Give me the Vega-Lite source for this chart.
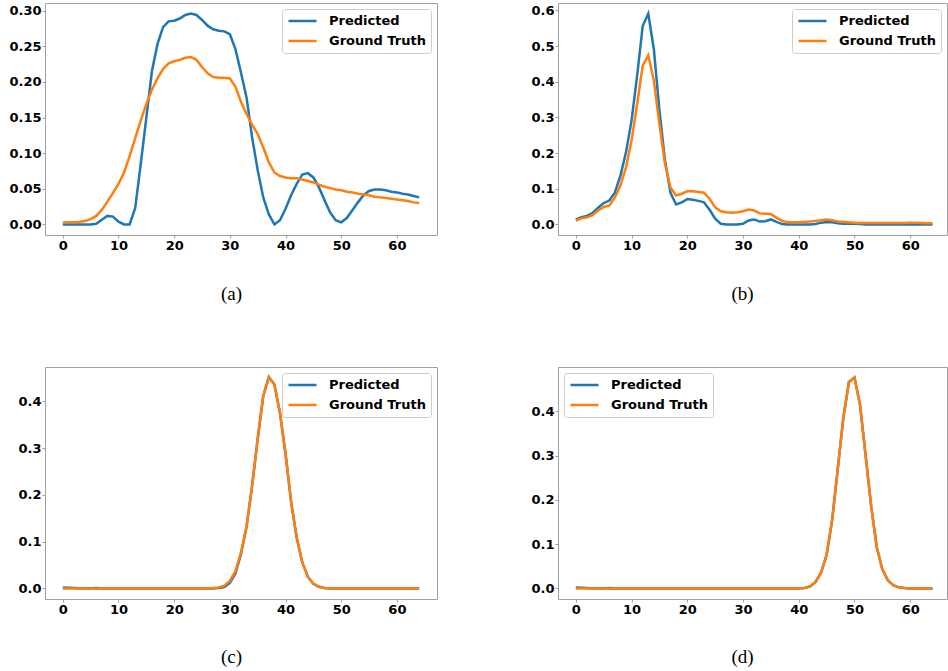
{
"$schema": "https://vega.github.io/schema/vega-lite/v6.json",
"background": "white",
"padding": {"left": 8, "top": 2, "right": 0, "bottom": 0},
"data": {"values": [
{"p":"a","x":0,"Predicted":0,"Ground Truth":0.0028},
{"p":"a","x":1,"Predicted":0,"Ground Truth":0.003},
{"p":"a","x":2,"Predicted":0,"Ground Truth":0.003},
{"p":"a","x":3,"Predicted":0,"Ground Truth":0.0037},
{"p":"a","x":4,"Predicted":0,"Ground Truth":0.0047},
{"p":"a","x":5,"Predicted":0,"Ground Truth":0.0075},
{"p":"a","x":6,"Predicted":0.001,"Ground Truth":0.012},
{"p":"a","x":7,"Predicted":0.0065,"Ground Truth":0.0205},
{"p":"a","x":8,"Predicted":0.012,"Ground Truth":0.032},
{"p":"a","x":9,"Predicted":0.011,"Ground Truth":0.044},
{"p":"a","x":10,"Predicted":0.004,"Ground Truth":0.057},
{"p":"a","x":11,"Predicted":0,"Ground Truth":0.073},
{"p":"a","x":12,"Predicted":0,"Ground Truth":0.096},
{"p":"a","x":13,"Predicted":0.023,"Ground Truth":0.121},
{"p":"a","x":14,"Predicted":0.085,"Ground Truth":0.146},
{"p":"a","x":15,"Predicted":0.150,"Ground Truth":0.169},
{"p":"a","x":16,"Predicted":0.215,"Ground Truth":0.189},
{"p":"a","x":17,"Predicted":0.253,"Ground Truth":0.205},
{"p":"a","x":18,"Predicted":0.277,"Ground Truth":0.218},
{"p":"a","x":19,"Predicted":0.285,"Ground Truth":0.226},
{"p":"a","x":20,"Predicted":0.286,"Ground Truth":0.229},
{"p":"a","x":21,"Predicted":0.289,"Ground Truth":0.231},
{"p":"a","x":22,"Predicted":0.294,"Ground Truth":0.234},
{"p":"a","x":23,"Predicted":0.296,"Ground Truth":0.235},
{"p":"a","x":24,"Predicted":0.294,"Ground Truth":0.231},
{"p":"a","x":25,"Predicted":0.287,"Ground Truth":0.221},
{"p":"a","x":26,"Predicted":0.279,"Ground Truth":0.212},
{"p":"a","x":27,"Predicted":0.274,"Ground Truth":0.207},
{"p":"a","x":28,"Predicted":0.272,"Ground Truth":0.206},
{"p":"a","x":29,"Predicted":0.271,"Ground Truth":0.206},
{"p":"a","x":30,"Predicted":0.267,"Ground Truth":0.205},
{"p":"a","x":31,"Predicted":0.246,"Ground Truth":0.193},
{"p":"a","x":32,"Predicted":0.213,"Ground Truth":0.172},
{"p":"a","x":33,"Predicted":0.178,"Ground Truth":0.155},
{"p":"a","x":34,"Predicted":0.122,"Ground Truth":0.140},
{"p":"a","x":35,"Predicted":0.076,"Ground Truth":0.127},
{"p":"a","x":36,"Predicted":0.038,"Ground Truth":0.108},
{"p":"a","x":37,"Predicted":0.014,"Ground Truth":0.087},
{"p":"a","x":38,"Predicted":0,"Ground Truth":0.073},
{"p":"a","x":39,"Predicted":0.006,"Ground Truth":0.068},
{"p":"a","x":40,"Predicted":0.022,"Ground Truth":0.066},
{"p":"a","x":41,"Predicted":0.041,"Ground Truth":0.065},
{"p":"a","x":42,"Predicted":0.057,"Ground Truth":0.065},
{"p":"a","x":43,"Predicted":0.070,"Ground Truth":0.063},
{"p":"a","x":44,"Predicted":0.072,"Ground Truth":0.061},
{"p":"a","x":45,"Predicted":0.066,"Ground Truth":0.059},
{"p":"a","x":46,"Predicted":0.052,"Ground Truth":0.056},
{"p":"a","x":47,"Predicted":0.034,"Ground Truth":0.053},
{"p":"a","x":48,"Predicted":0.017,"Ground Truth":0.051},
{"p":"a","x":49,"Predicted":0.006,"Ground Truth":0.049},
{"p":"a","x":50,"Predicted":0.003,"Ground Truth":0.048},
{"p":"a","x":51,"Predicted":0.009,"Ground Truth":0.046},
{"p":"a","x":52,"Predicted":0.020,"Ground Truth":0.045},
{"p":"a","x":53,"Predicted":0.031,"Ground Truth":0.043},
{"p":"a","x":54,"Predicted":0.041,"Ground Truth":0.042},
{"p":"a","x":55,"Predicted":0.047,"Ground Truth":0.041},
{"p":"a","x":56,"Predicted":0.049,"Ground Truth":0.039},
{"p":"a","x":57,"Predicted":0.049,"Ground Truth":0.038},
{"p":"a","x":58,"Predicted":0.048,"Ground Truth":0.037},
{"p":"a","x":59,"Predicted":0.046,"Ground Truth":0.036},
{"p":"a","x":60,"Predicted":0.045,"Ground Truth":0.035},
{"p":"a","x":61,"Predicted":0.043,"Ground Truth":0.034},
{"p":"a","x":62,"Predicted":0.042,"Ground Truth":0.033},
{"p":"a","x":63,"Predicted":0.040,"Ground Truth":0.031},
{"p":"a","x":64,"Predicted":0.038,"Ground Truth":0.030},
{"p":"b","x":0,"Predicted":0.014,"Ground Truth":0.011},
{"p":"b","x":1,"Predicted":0.020,"Ground Truth":0.017},
{"p":"b","x":2,"Predicted":0.024,"Ground Truth":0.020},
{"p":"b","x":3,"Predicted":0.032,"Ground Truth":0.026},
{"p":"b","x":4,"Predicted":0.047,"Ground Truth":0.039},
{"p":"b","x":5,"Predicted":0.060,"Ground Truth":0.049},
{"p":"b","x":6,"Predicted":0.067,"Ground Truth":0.053},
{"p":"b","x":7,"Predicted":0.089,"Ground Truth":0.075},
{"p":"b","x":8,"Predicted":0.137,"Ground Truth":0.109},
{"p":"b","x":9,"Predicted":0.202,"Ground Truth":0.160},
{"p":"b","x":10,"Predicted":0.291,"Ground Truth":0.235},
{"p":"b","x":11,"Predicted":0.417,"Ground Truth":0.337},
{"p":"b","x":12,"Predicted":0.556,"Ground Truth":0.445},
{"p":"b","x":13,"Predicted":0.591,"Ground Truth":0.474},
{"p":"b","x":14,"Predicted":0.491,"Ground Truth":0.403},
{"p":"b","x":15,"Predicted":0.319,"Ground Truth":0.281},
{"p":"b","x":16,"Predicted":0.179,"Ground Truth":0.170},
{"p":"b","x":17,"Predicted":0.088,"Ground Truth":0.103},
{"p":"b","x":18,"Predicted":0.056,"Ground Truth":0.081},
{"p":"b","x":19,"Predicted":0.062,"Ground Truth":0.086},
{"p":"b","x":20,"Predicted":0.071,"Ground Truth":0.093},
{"p":"b","x":21,"Predicted":0.069,"Ground Truth":0.093},
{"p":"b","x":22,"Predicted":0.066,"Ground Truth":0.091},
{"p":"b","x":23,"Predicted":0.062,"Ground Truth":0.089},
{"p":"b","x":24,"Predicted":0.041,"Ground Truth":0.072},
{"p":"b","x":25,"Predicted":0.016,"Ground Truth":0.048},
{"p":"b","x":26,"Predicted":0.002,"Ground Truth":0.037},
{"p":"b","x":27,"Predicted":0,"Ground Truth":0.034},
{"p":"b","x":28,"Predicted":0,"Ground Truth":0.033},
{"p":"b","x":29,"Predicted":0,"Ground Truth":0.034},
{"p":"b","x":30,"Predicted":0.002,"Ground Truth":0.037},
{"p":"b","x":31,"Predicted":0.011,"Ground Truth":0.042},
{"p":"b","x":32,"Predicted":0.014,"Ground Truth":0.039},
{"p":"b","x":33,"Predicted":0.008,"Ground Truth":0.031},
{"p":"b","x":34,"Predicted":0.009,"Ground Truth":0.030},
{"p":"b","x":35,"Predicted":0.014,"Ground Truth":0.029},
{"p":"b","x":36,"Predicted":0.007,"Ground Truth":0.019},
{"p":"b","x":37,"Predicted":0.001,"Ground Truth":0.010},
{"p":"b","x":38,"Predicted":0,"Ground Truth":0.0065},
{"p":"b","x":39,"Predicted":0,"Ground Truth":0.006},
{"p":"b","x":40,"Predicted":0,"Ground Truth":0.006},
{"p":"b","x":41,"Predicted":0,"Ground Truth":0.007},
{"p":"b","x":42,"Predicted":0,"Ground Truth":0.008},
{"p":"b","x":43,"Predicted":0.001,"Ground Truth":0.010},
{"p":"b","x":44,"Predicted":0.005,"Ground Truth":0.012},
{"p":"b","x":45,"Predicted":0.007,"Ground Truth":0.014},
{"p":"b","x":46,"Predicted":0.006,"Ground Truth":0.012},
{"p":"b","x":47,"Predicted":0.003,"Ground Truth":0.008},
{"p":"b","x":48,"Predicted":0.002,"Ground Truth":0.007},
{"p":"b","x":49,"Predicted":0.002,"Ground Truth":0.006},
{"p":"b","x":50,"Predicted":0.002,"Ground Truth":0.005},
{"p":"b","x":51,"Predicted":0.001,"Ground Truth":0.004},
{"p":"b","x":52,"Predicted":0,"Ground Truth":0.004},
{"p":"b","x":53,"Predicted":0,"Ground Truth":0.004},
{"p":"b","x":54,"Predicted":0,"Ground Truth":0.004},
{"p":"b","x":55,"Predicted":0,"Ground Truth":0.004},
{"p":"b","x":56,"Predicted":0,"Ground Truth":0.004},
{"p":"b","x":57,"Predicted":0,"Ground Truth":0.004},
{"p":"b","x":58,"Predicted":0,"Ground Truth":0.004},
{"p":"b","x":59,"Predicted":0,"Ground Truth":0.004},
{"p":"b","x":60,"Predicted":0,"Ground Truth":0.005},
{"p":"b","x":61,"Predicted":0,"Ground Truth":0.005},
{"p":"b","x":62,"Predicted":0,"Ground Truth":0.004},
{"p":"b","x":63,"Predicted":0,"Ground Truth":0.003},
{"p":"b","x":64,"Predicted":0,"Ground Truth":0.003},
{"p":"c","x":0,"Predicted":0.002,"Ground Truth":0},
{"p":"c","x":1,"Predicted":0.0015,"Ground Truth":0},
{"p":"c","x":2,"Predicted":0.001,"Ground Truth":0},
{"p":"c","x":3,"Predicted":0.0005,"Ground Truth":0},
{"p":"c","x":4,"Predicted":0,"Ground Truth":0},
{"p":"c","x":5,"Predicted":0,"Ground Truth":0},
{"p":"c","x":6,"Predicted":0.001,"Ground Truth":0},
{"p":"c","x":7,"Predicted":0,"Ground Truth":0},
{"p":"c","x":8,"Predicted":0,"Ground Truth":0},
{"p":"c","x":9,"Predicted":0,"Ground Truth":0},
{"p":"c","x":10,"Predicted":0,"Ground Truth":0},
{"p":"c","x":11,"Predicted":0,"Ground Truth":0},
{"p":"c","x":12,"Predicted":0,"Ground Truth":0},
{"p":"c","x":13,"Predicted":0,"Ground Truth":0},
{"p":"c","x":14,"Predicted":0,"Ground Truth":0},
{"p":"c","x":15,"Predicted":0,"Ground Truth":0},
{"p":"c","x":16,"Predicted":0,"Ground Truth":0},
{"p":"c","x":17,"Predicted":0,"Ground Truth":0},
{"p":"c","x":18,"Predicted":0,"Ground Truth":0},
{"p":"c","x":19,"Predicted":0,"Ground Truth":0},
{"p":"c","x":20,"Predicted":0,"Ground Truth":0},
{"p":"c","x":21,"Predicted":0,"Ground Truth":0},
{"p":"c","x":22,"Predicted":0,"Ground Truth":0},
{"p":"c","x":23,"Predicted":0,"Ground Truth":0},
{"p":"c","x":24,"Predicted":0,"Ground Truth":0},
{"p":"c","x":25,"Predicted":0,"Ground Truth":0},
{"p":"c","x":26,"Predicted":0,"Ground Truth":0},
{"p":"c","x":27,"Predicted":0,"Ground Truth":0.001},
{"p":"c","x":28,"Predicted":0.001,"Ground Truth":0.002},
{"p":"c","x":29,"Predicted":0.003,"Ground Truth":0.006},
{"p":"c","x":30,"Predicted":0.012,"Ground Truth":0.016},
{"p":"c","x":31,"Predicted":0.032,"Ground Truth":0.037},
{"p":"c","x":32,"Predicted":0.074,"Ground Truth":0.077},
{"p":"c","x":33,"Predicted":0.132,"Ground Truth":0.133},
{"p":"c","x":34,"Predicted":0.220,"Ground Truth":0.220},
{"p":"c","x":35,"Predicted":0.320,"Ground Truth":0.320},
{"p":"c","x":36,"Predicted":0.412,"Ground Truth":0.412},
{"p":"c","x":37,"Predicted":0.452,"Ground Truth":0.451},
{"p":"c","x":38,"Predicted":0.436,"Ground Truth":0.436},
{"p":"c","x":39,"Predicted":0.375,"Ground Truth":0.375},
{"p":"c","x":40,"Predicted":0.288,"Ground Truth":0.288},
{"p":"c","x":41,"Predicted":0.185,"Ground Truth":0.185},
{"p":"c","x":42,"Predicted":0.109,"Ground Truth":0.109},
{"p":"c","x":43,"Predicted":0.056,"Ground Truth":0.056},
{"p":"c","x":44,"Predicted":0.025,"Ground Truth":0.025},
{"p":"c","x":45,"Predicted":0.010,"Ground Truth":0.010},
{"p":"c","x":46,"Predicted":0.0035,"Ground Truth":0.0035},
{"p":"c","x":47,"Predicted":0.001,"Ground Truth":0.001},
{"p":"c","x":48,"Predicted":0,"Ground Truth":0},
{"p":"c","x":49,"Predicted":0,"Ground Truth":0},
{"p":"c","x":50,"Predicted":0,"Ground Truth":0},
{"p":"c","x":51,"Predicted":0,"Ground Truth":0},
{"p":"c","x":52,"Predicted":0,"Ground Truth":0},
{"p":"c","x":53,"Predicted":0,"Ground Truth":0},
{"p":"c","x":54,"Predicted":0,"Ground Truth":0},
{"p":"c","x":55,"Predicted":0,"Ground Truth":0},
{"p":"c","x":56,"Predicted":0,"Ground Truth":0},
{"p":"c","x":57,"Predicted":0,"Ground Truth":0},
{"p":"c","x":58,"Predicted":0,"Ground Truth":0},
{"p":"c","x":59,"Predicted":0,"Ground Truth":0},
{"p":"c","x":60,"Predicted":0,"Ground Truth":0},
{"p":"c","x":61,"Predicted":0,"Ground Truth":0},
{"p":"c","x":62,"Predicted":0,"Ground Truth":0},
{"p":"c","x":63,"Predicted":0,"Ground Truth":0},
{"p":"c","x":64,"Predicted":0,"Ground Truth":0},
{"p":"d","x":0,"Predicted":0.002,"Ground Truth":0},
{"p":"d","x":1,"Predicted":0.0015,"Ground Truth":0},
{"p":"d","x":2,"Predicted":0.001,"Ground Truth":0},
{"p":"d","x":3,"Predicted":0.0005,"Ground Truth":0},
{"p":"d","x":4,"Predicted":0,"Ground Truth":0},
{"p":"d","x":5,"Predicted":0,"Ground Truth":0},
{"p":"d","x":6,"Predicted":0.001,"Ground Truth":0},
{"p":"d","x":7,"Predicted":0,"Ground Truth":0},
{"p":"d","x":8,"Predicted":0,"Ground Truth":0},
{"p":"d","x":9,"Predicted":0,"Ground Truth":0},
{"p":"d","x":10,"Predicted":0,"Ground Truth":0},
{"p":"d","x":11,"Predicted":0,"Ground Truth":0},
{"p":"d","x":12,"Predicted":0,"Ground Truth":0},
{"p":"d","x":13,"Predicted":0,"Ground Truth":0},
{"p":"d","x":14,"Predicted":0,"Ground Truth":0},
{"p":"d","x":15,"Predicted":0,"Ground Truth":0},
{"p":"d","x":16,"Predicted":0,"Ground Truth":0},
{"p":"d","x":17,"Predicted":0,"Ground Truth":0},
{"p":"d","x":18,"Predicted":0,"Ground Truth":0},
{"p":"d","x":19,"Predicted":0,"Ground Truth":0},
{"p":"d","x":20,"Predicted":0,"Ground Truth":0},
{"p":"d","x":21,"Predicted":0,"Ground Truth":0},
{"p":"d","x":22,"Predicted":0,"Ground Truth":0},
{"p":"d","x":23,"Predicted":0,"Ground Truth":0},
{"p":"d","x":24,"Predicted":0,"Ground Truth":0},
{"p":"d","x":25,"Predicted":0,"Ground Truth":0},
{"p":"d","x":26,"Predicted":0,"Ground Truth":0},
{"p":"d","x":27,"Predicted":0,"Ground Truth":0},
{"p":"d","x":28,"Predicted":0,"Ground Truth":0},
{"p":"d","x":29,"Predicted":0,"Ground Truth":0},
{"p":"d","x":30,"Predicted":0,"Ground Truth":0},
{"p":"d","x":31,"Predicted":0,"Ground Truth":0},
{"p":"d","x":32,"Predicted":0,"Ground Truth":0},
{"p":"d","x":33,"Predicted":0,"Ground Truth":0},
{"p":"d","x":34,"Predicted":0,"Ground Truth":0},
{"p":"d","x":35,"Predicted":0,"Ground Truth":0},
{"p":"d","x":36,"Predicted":0,"Ground Truth":0},
{"p":"d","x":37,"Predicted":0,"Ground Truth":0},
{"p":"d","x":38,"Predicted":0,"Ground Truth":0},
{"p":"d","x":39,"Predicted":0,"Ground Truth":0},
{"p":"d","x":40,"Predicted":0,"Ground Truth":0},
{"p":"d","x":41,"Predicted":0.001,"Ground Truth":0.001},
{"p":"d","x":42,"Predicted":0.004,"Ground Truth":0.0045},
{"p":"d","x":43,"Predicted":0.014,"Ground Truth":0.015},
{"p":"d","x":44,"Predicted":0.035,"Ground Truth":0.036},
{"p":"d","x":45,"Predicted":0.076,"Ground Truth":0.076},
{"p":"d","x":46,"Predicted":0.155,"Ground Truth":0.155},
{"p":"d","x":47,"Predicted":0.270,"Ground Truth":0.270},
{"p":"d","x":48,"Predicted":0.385,"Ground Truth":0.385},
{"p":"d","x":49,"Predicted":0.466,"Ground Truth":0.466},
{"p":"d","x":50,"Predicted":0.476,"Ground Truth":0.476},
{"p":"d","x":51,"Predicted":0.414,"Ground Truth":0.414},
{"p":"d","x":52,"Predicted":0.300,"Ground Truth":0.300},
{"p":"d","x":53,"Predicted":0.185,"Ground Truth":0.185},
{"p":"d","x":54,"Predicted":0.093,"Ground Truth":0.093},
{"p":"d","x":55,"Predicted":0.043,"Ground Truth":0.043},
{"p":"d","x":56,"Predicted":0.018,"Ground Truth":0.018},
{"p":"d","x":57,"Predicted":0.007,"Ground Truth":0.007},
{"p":"d","x":58,"Predicted":0.0025,"Ground Truth":0.0025},
{"p":"d","x":59,"Predicted":0.001,"Ground Truth":0.001},
{"p":"d","x":60,"Predicted":0,"Ground Truth":0},
{"p":"d","x":61,"Predicted":0,"Ground Truth":0},
{"p":"d","x":62,"Predicted":0,"Ground Truth":0},
{"p":"d","x":63,"Predicted":0,"Ground Truth":0},
{"p":"d","x":64,"Predicted":0,"Ground Truth":0}
]},
"transform": [{"fold": ["Predicted", "Ground Truth"], "as": ["s", "v"]}],
"columns": 2,
"bounds": "flush",
"spacing": {"row": 132, "column": 121},
"resolve": {"scale": {"color": "independent", "x": "independent", "y": "independent"}, "legend": {"color": "independent"}},
"concat": [
{
 "width": 392, "height": 232,
 "transform": [{"filter": "datum.p === 'a'"}],
 "encoding": {
  "x": {"field": "x", "type": "quantitative", "scale": {"domain": [-3.2, 67.2], "nice": false, "zero": false}, "axis": {"values": [0,10,20,30,40,50,60], "title": "(a)", "titleX": 186, "titleY": 58}},
  "y": {"field": "v", "type": "quantitative", "scale": {"domain": [-0.0148, 0.3108], "nice": false, "zero": false}, "axis": {"values": [0,0.05,0.1,0.15,0.2,0.25,0.3], "format": ".2f", "title": null}},
  "color": {"field": "s", "type": "nominal", "scale": {"domain": ["Predicted", "Ground Truth"], "range": ["#1f77b4", "#ff7f0e"]}, "legend": {"title": null, "orient": "top-right"}}
 },
 "layer": [
  {"transform": [{"filter": "datum.s === 'Predicted'"}], "mark": {"type": "line", "strokeWidth": 2.5}},
  {"transform": [{"filter": "datum.s === 'Ground Truth'"}], "mark": {"type": "line", "strokeWidth": 2.5}}
 ]
},
{
 "width": 389, "height": 232,
 "transform": [{"filter": "datum.p === 'b'"}],
 "encoding": {
  "x": {"field": "x", "type": "quantitative", "scale": {"domain": [-3.2, 66.6], "nice": false, "zero": false}, "axis": {"values": [0,10,20,30,40,50,60], "title": "(b)", "titleX": 184, "titleY": 58}},
  "y": {"field": "v", "type": "quantitative", "scale": {"domain": [-0.0296, 0.6206], "nice": false, "zero": false}, "axis": {"values": [0,0.1,0.2,0.3,0.4,0.5,0.6], "format": ".1f", "title": null}},
  "color": {"field": "s", "type": "nominal", "scale": {"domain": ["Predicted", "Ground Truth"], "range": ["#1f77b4", "#ff7f0e"]}, "legend": {"title": null, "orient": "top-right"}}
 },
 "layer": [
  {"transform": [{"filter": "datum.s === 'Predicted'"}], "mark": {"type": "line", "strokeWidth": 2.5}},
  {"transform": [{"filter": "datum.s === 'Ground Truth'"}], "mark": {"type": "line", "strokeWidth": 2.5}}
 ]
},
{
 "width": 392, "height": 232,
 "transform": [{"filter": "datum.p === 'c'"}],
 "encoding": {
  "x": {"field": "x", "type": "quantitative", "scale": {"domain": [-3.2, 67.2], "nice": false, "zero": false}, "axis": {"values": [0,10,20,30,40,50,60], "title": "(c)", "titleX": 186, "titleY": 57}},
  "y": {"field": "v", "type": "quantitative", "scale": {"domain": [-0.0226, 0.4736], "nice": false, "zero": false}, "axis": {"values": [0,0.1,0.2,0.3,0.4], "format": ".1f", "title": null}},
  "color": {"field": "s", "type": "nominal", "scale": {"domain": ["Predicted", "Ground Truth"], "range": ["#1f77b4", "#ff7f0e"]}, "legend": {"title": null, "orient": "top-right"}}
 },
 "layer": [
  {"transform": [{"filter": "datum.s === 'Predicted'"}], "mark": {"type": "line", "strokeWidth": 2.5}},
  {"transform": [{"filter": "datum.s === 'Ground Truth'"}], "mark": {"type": "line", "strokeWidth": 2.5}}
 ]
},
{
 "width": 389, "height": 232,
 "transform": [{"filter": "datum.p === 'd'"}],
 "encoding": {
  "x": {"field": "x", "type": "quantitative", "scale": {"domain": [-3.2, 66.6], "nice": false, "zero": false}, "axis": {"values": [0,10,20,30,40,50,60], "title": "(d)", "titleX": 184, "titleY": 57}},
  "y": {"field": "v", "type": "quantitative", "scale": {"domain": [-0.0238, 0.4998], "nice": false, "zero": false}, "axis": {"values": [0,0.1,0.2,0.3,0.4], "format": ".1f", "title": null}},
  "color": {"field": "s", "type": "nominal", "scale": {"domain": ["Predicted", "Ground Truth"], "range": ["#1f77b4", "#ff7f0e"]}, "legend": {"title": null, "orient": "top-left"}}
 },
 "layer": [
  {"transform": [{"filter": "datum.s === 'Predicted'"}], "mark": {"type": "line", "strokeWidth": 2.5}},
  {"transform": [{"filter": "datum.s === 'Ground Truth'"}], "mark": {"type": "line", "strokeWidth": 2.5}}
 ]
}
],
"config": {
 "view": {"stroke": "#a0a0a0", "strokeWidth": 1},
 "axis": {"grid": false, "domain": false, "labelFont": "DejaVu Sans", "labelFontWeight": "bold", "labelFontSize": 13, "labelColor": "black", "labelFlush": false, "labelOverlap": false, "tickColor": "#a0a0a0", "tickSize": 3, "labelPadding": 1, "titleFont": "Liberation Serif", "titleFontWeight": "normal", "titleFontSize": 19, "titleColor": "black", "titleBaseline": "middle", "titleAlign": "center"},
 "legend": {"symbolType": "stroke", "symbolSize": 784, "symbolStrokeWidth": 2.5, "clipHeight": 14, "rowPadding": 6, "labelOffset": 11, "labelFont": "DejaVu Sans", "labelFontWeight": "bold", "labelFontSize": 13, "labelColor": "black", "labelLimit": 300, "padding": 5, "fillColor": "white", "strokeColor": "#cccccc", "cornerRadius": 3, "offset": 6}
}
}
